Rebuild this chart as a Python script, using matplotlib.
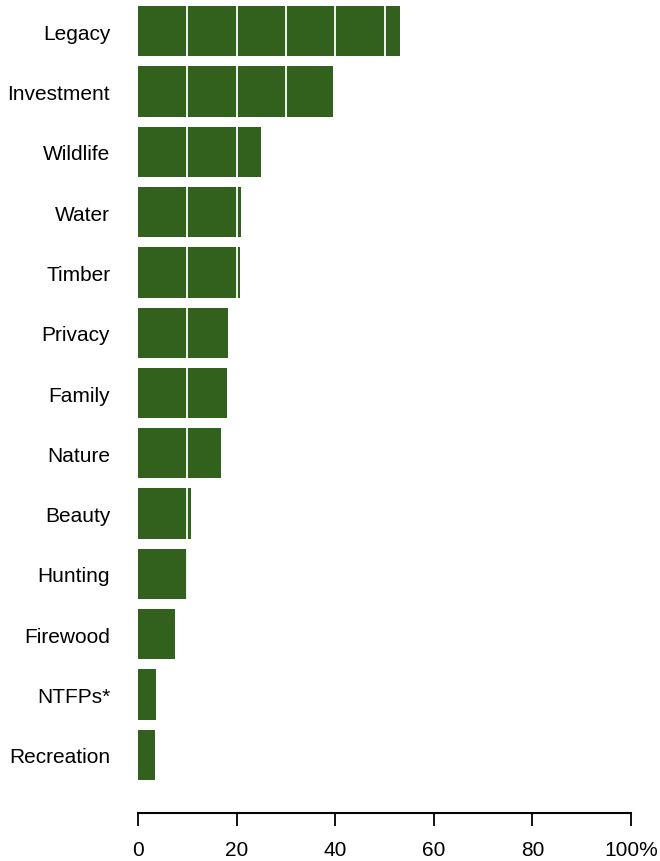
import matplotlib
matplotlib.use('Agg')
import matplotlib.pyplot as plt
import numpy as np

plt.rcParams['font.family'] = ['Liberation Sans', 'DejaVu Sans']

# reasons for owning land, percent of owners
reasons = ['Legacy', 'Investment', 'Wildlife', 'Water', 'Timber', 'Privacy',
           'Family', 'Nature', 'Beauty', 'Hunting', 'Firewood', 'NTFPs*',
           'Recreation']
percent = [53.1, 39.6, 24.9, 20.9, 20.7, 18.3, 18.1, 16.8, 10.7, 10.0, 7.5,
           3.65, 3.45]
xticks = [0, 20, 40, 60, 80, 100]
xticklabels = ['0', '20', '40', '60', '80', '100%']

green = '#31611d'

fig = plt.figure(figsize=(6.6, 8.62), dpi=100)
# axes in pixels: x 138..631, y 0..814 (from top)
ax = fig.add_axes([138/660, 1 - 814/862, 493/660, 814/862])

pos = np.arange(len(reasons)) * 1.2 + 0.5
ax.barh(pos, percent, height=1.0, color=green, linewidth=0, zorder=2)

# white grid lines drawn over the bars only (stop short of the axis line)
ax.vlines(range(10, 100, 10), -0.2, 15.6, color='white', lw=1.3, zorder=3)

px = 50.26  # pixels per bar unit
ax.set_ylim(15.4 + 33/px, -7/px)
ax.set_xlim(0, 100)

ax.set_yticks(pos)
ax.set_yticklabels(reasons, fontsize=15)
ax.tick_params(axis='y', length=0, pad=20)

ax.set_xticks(xticks)
ax.set_xticklabels(xticklabels, fontsize=15)
ax.tick_params(axis='x', length=9.5, width=1.3, pad=10, color='black')

for s in ['top', 'right', 'left']:
    ax.spines[s].set_visible(False)
ax.spines['bottom'].set_linewidth(1.5)
ax.spines['bottom'].set_bounds(0, 100)
ax.patch.set_visible(False)

plt.savefig('out.png', dpi=100)
